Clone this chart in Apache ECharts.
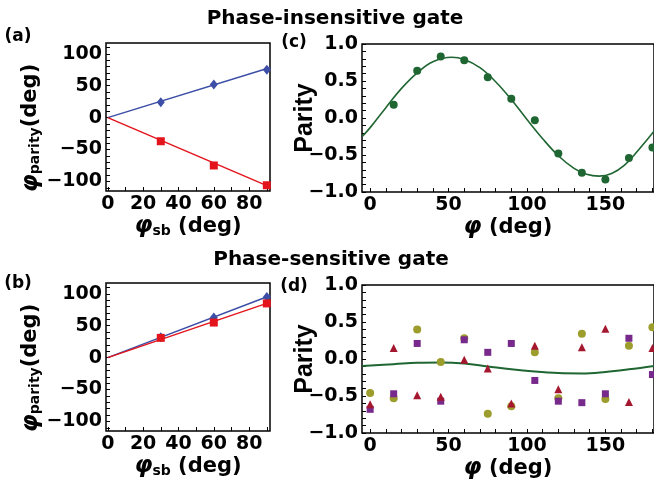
<!DOCTYPE html>
<html>
<head>
<meta charset="utf-8">
<script src="https://cdn.jsdelivr.net/npm/echarts@6/dist/echarts.min.js"></script>
<style>
html,body{margin:0;padding:0;background:#fff;}
#chart{width:654px;height:483px;}
</style>
</head>
<body>
<div id="chart"></div>
<script>
// (a)(b) 边带相位 -> parity 相位
const sbPhase = [30, 60, 90];
const sbFitX = [0, 92];
const aBlue = [24, 52, 75];
const aRed = [-37, -75, -106];
const aBlueFit = [0, 78.5];
const aRedFit = [0, -109];
const bBlue = [32, 63, 95];
const bRed = [31, 55, 85];
const bBlueFit = [0, 97.5];
const bRedFit = [0, 87];
const sbLabels = [0, 20, 40, 60, 80];
const sbMinor = [0, 10, 20, 30, 40, 50, 60, 70, 80, 90];
const phLabels = [-100, -50, 0, 50, 100];
const phMinor = [-110, -100, -90, -80, -70, -60, -50, -40, -30, -20, -10, 0, 10, 20, 30, 40, 50, 60, 70, 80, 90, 100, 110];

// (c) phase-insensitive parity
const cPhi = [15, 30, 45, 60, 75, 90, 105, 120, 135, 150, 165, 180];
const cParity = [0.18, 0.64, 0.83, 0.78, 0.55, 0.26, -0.03, -0.48, -0.74, -0.83, -0.54, -0.40];
const cFitX = [-5, 0, 10, 20, 30, 40, 52, 60, 70, 80, 90, 100, 110, 120, 130, 138, 146, 154, 162, 170, 181];
const cFitY = [-0.25, -0.13, 0.14, 0.40, 0.61, 0.76, 0.82, 0.79, 0.68, 0.49, 0.25, -0.02, -0.28, -0.51, -0.68, -0.76, -0.785, -0.75, -0.64, -0.46, -0.18];

// (d) phase-sensitive parity
const dPhi = [0, 15, 30, 45, 60, 75, 90, 105, 120, 135, 150, 165, 180];
const dOlive = [-0.46, -0.53, 0.40, -0.04, 0.28, -0.74, -0.64, 0.09, -0.53, 0.34, -0.54, 0.18, 0.43];
const dPurple = [-0.68, -0.47, 0.21, -0.57, 0.26, 0.09, 0.21, -0.29, -0.57, -0.59, -0.47, 0.28, -0.21];
const dRed = [-0.61, 0.15, -0.49, -0.51, -0.01, -0.13, -0.60, 0.18, -0.41, 0.16, 0.41, -0.58, 0.15];
const dFitX = [-5, 15, 30, 45, 60, 75, 90, 105, 120, 135, 150, 165, 181];
const dFitY = [-0.095, -0.07, -0.05, -0.046, -0.06, -0.10, -0.14, -0.17, -0.19, -0.195, -0.175, -0.14, -0.095];
const parLabels = [-1, -0.5, 0, 0.5, 1];
const parMinor = [-1, -0.9, -0.8, -0.7, -0.6, -0.5, -0.4, -0.3, -0.2, -0.1, 0, 0.1, 0.2, 0.3, 0.4, 0.5, 0.6, 0.7, 0.8, 0.9, 1];
const phiLabels = [0, 50, 100, 150];
const phiMinor = [0, 10, 20, 30, 40, 50, 60, 70, 80, 90, 100, 110, 120, 130, 140, 150, 160, 170, 180];

const FONT = 'DejaVu Sans';
const minus = v => (v < 0 ? '\u2212' : '') + Math.abs(v);

function zip(xs, ys){
    let out = [];
    for(let i=0;i<xs.length;i++){ out.push([xs[i], ys[i]]); }
    return out;
}

// 坐标轴 (Mathematica 风格, 刻度朝内)
function axis(grid, min, max, labels, ticks, fmt, extra){
    return Object.assign({
        gridIndex: grid,
        type: 'value',
        min: min,
        max: max,
        axisLine: {show: false, onZero: false},
        splitLine: {show: false},
        axisTick: {show: true, inside: true, length: 4, customValues: ticks, lineStyle: {color: '#000', width: 1}},
        axisLabel: {customValues: labels, formatter: fmt, color: '#000', fontFamily: FONT, fontWeight: 'bold', fontSize: 19, margin: 4},
        nameTextStyle: {color: '#000', fontFamily: FONT, fontWeight: 'bold', fontSize: 22}
    }, extra || {});
}

const nameRich = {
    p: {fontFamily: 'DejaVu Sans', fontStyle: 'italic', fontWeight: 'bold', fontSize: 23, color: '#000'},
    s: {fontFamily: FONT, fontWeight: 'bold', fontSize: 14, color: '#000', padding: [9, 0, 0, 0]},
    d: {fontFamily: FONT, fontWeight: 'bold', fontSize: 21, color: '#000'}
};

function sbX(grid){
    return axis(grid, -1, 91.8, sbLabels, sbMinor, v => minus(v), {
        name: '{p|\u03c6}{s|sb}{d| (deg)}', nameLocation: 'middle', nameGap: 24,
        nameTextStyle: {rich: nameRich}
    });
}
function sbY(grid){
    return axis(grid, -115, 117, phLabels, phMinor, v => minus(v), {
        name: '{p|\u03c6}{s|parity}{d|(deg)}', nameLocation: 'middle', nameGap: 60,
        nameTextStyle: {rich: nameRich, padding: [0, 22, 0, 0]}
    });
}
function phiX(grid){
    return axis(grid, -5.2, 181, phiLabels, phiMinor, v => minus(v), {
        name: '{p|\u03c6}{d| (deg)}', nameLocation: 'middle', nameGap: 24,
        nameTextStyle: {rich: nameRich}
    });
}
function parY(grid){
    return axis(grid, -1, 1, parLabels, parMinor, v => (v < 0 ? '\u2212' : '') + Math.abs(v).toFixed(1), {
        name: 'Parity', nameLocation: 'middle', nameGap: 44, nameMoveOverlap: false,
        nameTextStyle: {color: '#000', fontFamily: 'Liberation Sans', fontWeight: 'bold', fontSize: 25}
    });
}

function fitLine(x, y, data, color, w){
    return {type: 'line', xAxisIndex: x, yAxisIndex: y, data: data, symbol: 'none', smooth: false,
        lineStyle: {color: color, width: w}, animation: false, z: 2};
}
function dots(x, y, data, color, symbol, size){
    return {type: 'scatter', xAxisIndex: x, yAxisIndex: y, data: data, symbol: symbol, symbolSize: size,
        itemStyle: {color: color, opacity: 1}, animation: false, z: 3};
}

const BLUE = '#3d4ea6', RED = '#e3141c', GREEN = '#1f6632';
const OLIVE = '#9c9d2c', PURPLE = '#782a8c', DRED = '#a5172e';
const TITLE_FONT = 'bold 20px "DejaVu Sans"', TAG_FONT = 'bold 17px "DejaVu Sans"';

let myChart = echarts.init(document.getElementById('chart'), null, {renderer: 'canvas'});
myChart.setOption({
    backgroundColor: '#fff',
    animation: false,
    grid: [
        {left: 106, top: 43, width: 164, height: 148, show: true, borderColor: '#000', borderWidth: 1.5},
        {left: 106, top: 283, width: 164, height: 148, show: true, borderColor: '#000', borderWidth: 1.5},
        {left: 362, top: 44, right: -3, height: 148, show: true, borderColor: '#000', borderWidth: 1.5},
        {left: 362, top: 285, right: -3, height: 148, show: true, borderColor: '#000', borderWidth: 1.5}
    ],
    xAxis: [sbX(0), sbX(1), phiX(2), phiX(3)],
    yAxis: [sbY(0), sbY(1), parY(2), parY(3)],
    graphic: [
        {type: 'text', x: 335, y: 19, style: {text: 'Phase-insensitive gate', textAlign: 'center', textVerticalAlign: 'middle', fill: '#000', font: TITLE_FONT}},
        {type: 'text', x: 331, y: 260, style: {text: 'Phase-sensitive gate', textAlign: 'center', textVerticalAlign: 'middle', fill: '#000', font: TITLE_FONT}},
        {type: 'text', x: 18, y: 37, style: {text: '(a)', textAlign: 'center', textVerticalAlign: 'middle', fill: '#000', font: TAG_FONT}},
        {type: 'text', x: 18, y: 284, style: {text: '(b)', textAlign: 'center', textVerticalAlign: 'middle', fill: '#000', font: TAG_FONT}},
        {type: 'text', x: 294, y: 43, style: {text: '(c)', textAlign: 'center', textVerticalAlign: 'middle', fill: '#000', font: TAG_FONT}},
        {type: 'text', x: 294, y: 287, style: {text: '(d)', textAlign: 'center', textVerticalAlign: 'middle', fill: '#000', font: TAG_FONT}}
    ],
    series: [
        fitLine(0, 0, zip(sbFitX, aBlueFit), BLUE, 1.5),
        fitLine(0, 0, zip(sbFitX, aRedFit), RED, 1.5),
        dots(0, 0, zip(sbPhase, aBlue), BLUE, 'diamond', [8, 10]),
        dots(0, 0, zip(sbPhase, aRed), RED, 'rect', 8),

        fitLine(1, 1, zip(sbFitX, bBlueFit), BLUE, 1.5),
        fitLine(1, 1, zip(sbFitX, bRedFit), RED, 1.5),
        dots(1, 1, zip(sbPhase, bBlue), BLUE, 'diamond', [8, 10]),
        dots(1, 1, zip(sbPhase, bRed), RED, 'rect', 8),

        Object.assign(fitLine(2, 2, zip(cFitX, cFitY), GREEN, 1.6), {smooth: 0.4}),
        dots(2, 2, zip(cPhi, cParity), GREEN, 'circle', 8),

        Object.assign(fitLine(3, 3, zip(dFitX, dFitY), GREEN, 2), {smooth: 0.4}),
        dots(3, 3, zip(dPhi, dOlive), OLIVE, 'circle', 8),
        dots(3, 3, zip(dPhi, dPurple), PURPLE, 'rect', 7),
        dots(3, 3, zip(dPhi, dRed), DRED, 'triangle', 8)
    ]
});
</script>
</body>
</html>
